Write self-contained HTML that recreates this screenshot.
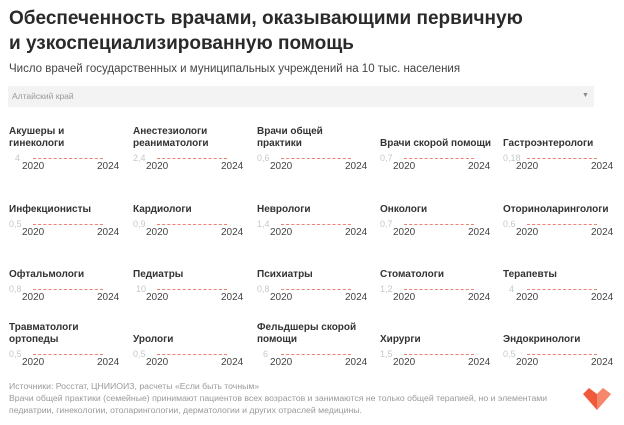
<!DOCTYPE html><html><head><meta charset="utf-8"><style>
body{margin:0;width:624px;height:425px;background:#fff;position:relative;overflow:hidden;font-family:"Liberation Sans","DejaVu Sans",sans-serif}
.a{position:absolute;white-space:nowrap}
.t{font-weight:bold;font-size:10px;color:#333;line-height:12px}
.v{font-size:9px;color:#c8c8c8}
.y{font-size:10px;color:#444}
.l{position:absolute;height:0;border-top:1px dashed #f08070;width:70px}
</style></head><body>
<div class="a" style="left:9px;top:6px;font-size:19px;font-weight:bold;color:#2a2a2a;line-height:25px">Обеспеченность врачами, оказывающими первичную<br>и узкоспециализированную помощь</div>
<div class="a" style="left:9px;top:63px;font-size:11.5px;color:#444">Число врачей государственных и муниципальных учреждений на 10 тыс. населения</div>
<div class="a" style="left:8px;top:86px;width:586px;height:21px;background:#f3f3f3"></div>
<div class="a" style="left:12px;top:91px;font-size:8.5px;color:#999">Алтайский край</div>
<div class="a" style="left:582px;top:92px;font-size:7px;color:#888">▼</div>
<div id="g"></div>
<div class="a" style="left:9px;top:380px;font-size:8.7px;color:#999;line-height:12px">Источники: Росстат, ЦНИИОИЗ, расчеты «Если быть точным»<br>Врачи общей практики (семейные) принимают пациентов всех возрастов и занимаются не только общей терапией, но и элементами<br>педиатрии, гинекологии, отоларингологии, дерматологии и других отраслей медицины.</div>
<svg class="a" style="left:583px;top:388px" width="28" height="24" viewBox="0 0 28 24"><path d="M0 6 L6 0 L14 6 L20 0 L28 6 L14 22 Z" fill="#f05a3a"/><path d="M14 6 L20 0 L28 6 L14 22Z" fill="#f79a80" opacity=".7"/></svg>
<script>
var d=[["Акушеры и<br>гинекологи","4"],["Анестезиологи<br>реаниматологи","2,4"],["Врачи общей<br>практики","0,6"],["Врачи скорой помощи","0,7"],["Гастроэнтерологи","0,18"],
["Инфекционисты","0,5"],["Кардиологи","0,9"],["Неврологи","1,4"],["Онкологи","0,7"],["Оториноларингологи","0,6"],
["Офтальмологи","0,8"],["Педиатры","10"],["Психиатры","0,8"],["Стоматологи","1,2"],["Терапевты","4"],
["Травматологи<br>ортопеды","0,5"],["Урологи","0,5"],["Фельдшеры скорой<br>помощи","6"],["Хирурги","1,5"],["Эндокринологи","0,5"]];
var cx=[9,133,257,380,503],vy=[153,219,284,349],h="";
d.forEach(function(e,i){var c=cx[i%5],r=Math.floor(i/5),v=vy[r];var two=e[0].indexOf("<br>")>0;
h+='<div class="a t" style="left:'+c+'px;top:'+(two?v-27:v-15)+'px">'+e[0]+'</div>';
h+='<div class="a v" style="left:'+(c+(e[1].length>2?0:e[1].length>1?3:6))+'px;top:'+v+'px">'+e[1]+'</div>';
h+='<div class="l" style="left:'+(c+24)+'px;top:'+(v+5)+'px"></div>';
h+='<div class="a y" style="left:'+(c+13)+'px;top:'+(v+8)+'px">2020</div>';
h+='<div class="a y" style="left:'+(c+88)+'px;top:'+(v+8)+'px">2024</div>';});
document.getElementById("g").innerHTML=h;
</script>
</body></html>
